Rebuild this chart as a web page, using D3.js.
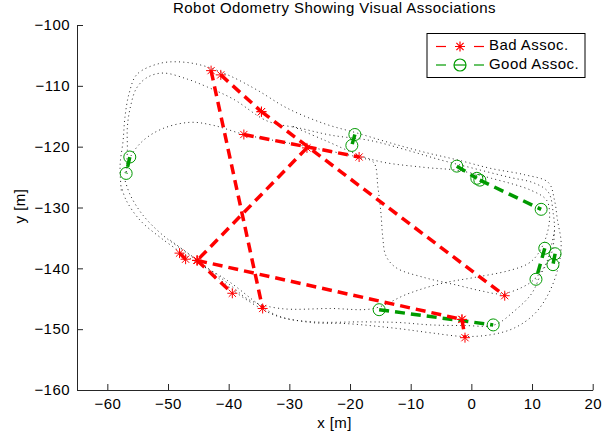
<!DOCTYPE html>
<html>
<head>
<meta charset="utf-8">
<script src="https://cdn.jsdelivr.net/npm/d3@7"></script>
<style>
  html, body { margin: 0; padding: 0; background: #fff; }
  svg { display: block; font-family: "Liberation Sans", Arial, Helvetica, sans-serif; }
  text { letter-spacing: 0.45px; }
</style>
</head>
<body>
<svg id="chart" width="616" height="438"></svg>
<script>
// ---- data ----
const xTicks = [-60, -50, -40, -30, -20, -10, 0, 10, 20];
const yTicks = [-160, -150, -140, -130, -120, -110, -100];

// robot odometry (several passes of the loop)
const odomPass1 = [[-57.7,-127.2],[-57.9,-123.1],[-57.4,-119.0],[-57.1,-115.2],[-56.4,-111.2],[-55.1,-108.1],[-51.3,-106.3],[-47.5,-106.1],[-43.8,-106.8],[-39.7,-108.4],[-35.3,-110.7],[-30.3,-113.7],[-24.3,-116.2],[-18.7,-117.8],[-13.3,-119.4],[-7.8,-120.9],[-2.2,-122.2],[3.3,-123.6],[8.7,-124.6],[12.7,-125.9],[13.7,-128.8],[14.2,-132.1],[14.8,-135.9],[14.3,-139.9],[12.7,-144.2],[10.4,-147.5],[7.1,-149.8],[3.3,-150.9],[-1.2,-151.2],[-6.7,-150.6],[-12.1,-149.9],[-20.4,-149.1],[-26.5,-148.9],[-31.9,-147.8],[-34.8,-146.1],[-40.2,-142.0],[-46.3,-138.4],[-51.3,-134.9],[-54.6,-132.1],[-56.9,-128.8],[-57.7,-126.5]];
const odomPass2 = [[-56.9,-124.2],[-56.7,-120.6],[-56.7,-116.8],[-56.2,-113.5],[-55.2,-110.4],[-53.4,-108.6],[-50.8,-107.9],[-46.8,-108.9],[-43.5,-110.2],[-39.2,-112.2],[-33.6,-115.8],[-28.1,-117.0],[-23.2,-118.1],[-16.6,-119.0],[-10.5,-120.6],[-5.0,-122.2],[0.5,-123.6],[6.1,-125.0],[10.4,-126.0],[12.7,-127.5],[13.5,-131.0],[13.7,-133.8],[13.2,-137.6],[11.5,-140.9],[9.9,-144.2],[7.1,-147.0],[3.8,-149.3],[-1.2,-149.4],[-6.7,-149.3],[-12.1,-148.9],[-17.7,-148.8],[-26.0,-148.8],[-31.9,-147.9],[-37.6,-144.8],[-42.2,-141.2],[-46.3,-137.9],[-50.8,-134.6],[-54.1,-131.3],[-56.2,-128.0],[-57.1,-125.5]];
const odomPass3 = [[-56.9,-124.2],[-56.2,-121.7],[-54.1,-119.0],[-50.8,-117.0],[-46.3,-116.0],[-42.5,-116.5],[-37.4,-118.0],[-28.1,-119.8],[-18.4,-121.8],[-16.1,-122.6],[-15.4,-126.7],[-14.9,-131.0],[-14.6,-134.9],[-14.1,-137.9],[-12.4,-139.9],[-7.8,-141.5],[-2.2,-142.8],[1.6,-143.7],[4.9,-144.2],[8.2,-143.2],[10.5,-141.7],[12.4,-139.0],[13.2,-136.2],[13.7,-133.8]];
const odomPass4 = [[-49.6,-135.4],[-44.7,-139.0],[-39.7,-142.8],[-36.4,-145.3],[-31.5,-146.6],[-23.2,-146.6],[-16.1,-146.6],[-10.5,-144.2],[-5.0,-142.5],[0.5,-141.5],[6.1,-140.4],[9.4,-139.2],[11.0,-137.6],[12.4,-134.6],[12.9,-131.3],[12.4,-128.8],[9.9,-127.2],[3.3,-125.2],[-2.2,-123.9],[-7.8,-123.4],[-16.1,-122.2],[-24.3,-118.9],[-29.8,-116.5]];
const odomPasses = [odomPass1, odomPass2, odomPass3, odomPass4];

// visual associations: each is [pointA, pointB]
const badAssoc = [
  [[-42.9,-107.5],[-34.4,-146.6]],
  [[-41.3,-108.2],[-34.6,-114.25]],
  [[-34.6,-114.25],[5.5,-144.5]],
  [[-37.5,-118.0],[-18.5,-121.7]],
  [[-27.1,-120.2],[-45.2,-138.7]],
  [[-45.2,-138.7],[-1.55,-148.4]],
  [[-45.2,-138.7],[-39.4,-144.1]],
  [[-1.55,-148.4],[-1.05,-151.4]],
  [[-48.1,-137.5],[-47.1,-138.5]]
];
const goodAssoc = [
  [[-56.3,-121.7],[-56.9,-124.4]],
  [[-19.2,-118.0],[-19.7,-119.8]],
  [[-2.4,-123.2],[0.9,-125.2]],
  [[1.4,-125.5],[11.5,-130.3]],
  [[12.1,-136.7],[10.65,-141.8]],
  [[13.8,-137.6],[13.45,-139.4]],
  [[-15.2,-146.8],[3.6,-149.3]]
];
const legendLabels = ["Bad Assoc.", "Good Assoc."];
const titleText = "Robot Odometry Showing Visual Associations";

// ---- drawing ----
const RED = "#ff0000", GREEN = "#009a00";
const FS = "15px";
const svg = d3.select("#chart");
const x = d3.scaleLinear().domain([-65, 20]).range([77, 592.7]);
const y = d3.scaleLinear().domain([-160, -100]).range([390, 25]);

// odometry (dotted)
const line = d3.line().x(d => x(d[0])).y(d => y(d[1])).curve(d3.curveCatmullRom.alpha(0.5));
svg.append("g").selectAll("path").data(odomPasses).join("path")
  .attr("d", line).attr("fill", "none")
  .attr("stroke", "#111").attr("stroke-width", 0.9)
  .attr("stroke-dasharray", "1 3.3");

function starPath(r) {
  const k = r * 0.72;
  return `M${-r},0L${r},0M0,${-r}L0,${r}M${-k},${-k}L${k},${k}M${-k},${k}L${k},${-k}`;
}
function drawAssoc(data, color, marker) {
  const g = svg.append("g");
  data.forEach(pair => {
    g.append("path").attr("d", d3.line().x(d => x(d[0])).y(d => y(d[1]))(pair))
      .attr("fill", "none").attr("stroke", color).attr("stroke-width", 3.5)
      .attr("stroke-dasharray", "10 6");
    pair.forEach(p => {
      if (marker === "star") {
        g.append("path").attr("d", starPath(5))
          .attr("transform", `translate(${x(p[0])},${y(p[1])})`)
          .attr("stroke", color).attr("stroke-width", 1).attr("fill", "none");
      } else {
        g.append("circle").attr("cx", x(p[0])).attr("cy", y(p[1])).attr("r", 6)
          .attr("stroke", color).attr("stroke-width", 1).attr("fill", "none");
      }
    });
  });
}
drawAssoc(goodAssoc, GREEN, "circle");
drawAssoc(badAssoc, RED, "star");

// axes
const xAxis = d3.axisBottom(x).tickValues(xTicks).tickSizeInner(-6).tickSizeOuter(0).tickPadding(8);
const yAxis = d3.axisLeft(y).tickValues(yTicks).tickSizeInner(-6).tickSizeOuter(0).tickPadding(7);
const gx = svg.append("g").attr("transform", "translate(0,390)").call(xAxis);
const gy = svg.append("g").attr("transform", "translate(77,0)").call(yAxis);
[gx, gy].forEach(g => {
  g.select(".domain").attr("stroke", "#262626").attr("stroke-width", 1);
  g.selectAll(".tick line").attr("stroke", "#262626");
  g.selectAll(".tick text").attr("fill", "#000").style("font-size", FS).style("font-family", "Liberation Sans, Arial, sans-serif");
});

// labels
svg.append("text").attr("x", 334.5).attr("y", 424).attr("text-anchor", "middle")
  .attr("dominant-baseline", "middle").style("font-size", FS).text("x [m]");
svg.append("text").attr("transform", "translate(21,206) rotate(-90)").attr("text-anchor", "middle")
  .attr("dominant-baseline", "middle").style("font-size", FS).text("y [m]");
svg.append("text").attr("x", 334.5).attr("y", 9).attr("text-anchor", "middle")
  .attr("dominant-baseline", "middle").style("font-size", FS).text(titleText);

// legend
const lg = svg.append("g");
lg.append("rect").attr("x", 427).attr("y", 33.5).attr("width", 158).attr("height", 44)
  .attr("fill", "#fff").attr("stroke", "#000").attr("stroke-width", 1);
const legendColors = [RED, GREEN];
legendLabels.forEach((lab, i) => {
  const cy = 46.5 + i * 18.5;
  const col = legendColors[i];
  lg.append("line").attr("x1", 436).attr("x2", 446).attr("y1", cy).attr("y2", cy)
    .attr("stroke", col).attr("stroke-width", 1.2);
  lg.append("line").attr("x1", 474).attr("x2", 484).attr("y1", cy).attr("y2", cy)
    .attr("stroke", col).attr("stroke-width", 1.2);
  if (i === 0) {
    lg.append("path").attr("d", starPath(5)).attr("transform", `translate(460,${cy})`)
      .attr("stroke", col).attr("stroke-width", 1.2).attr("fill", "none");
  } else {
    lg.append("circle").attr("cx", 460).attr("cy", cy).attr("r", 6)
      .attr("stroke", col).attr("stroke-width", 1.2).attr("fill", "none");
    lg.append("line").attr("x1", 454).attr("x2", 466).attr("y1", cy).attr("y2", cy)
      .attr("stroke", col).attr("stroke-width", 1.2);
  }
  lg.append("text").attr("x", 489).attr("y", cy).attr("dominant-baseline", "middle")
    .style("font-size", FS).text(lab);
});
</script>
</body>
</html>
